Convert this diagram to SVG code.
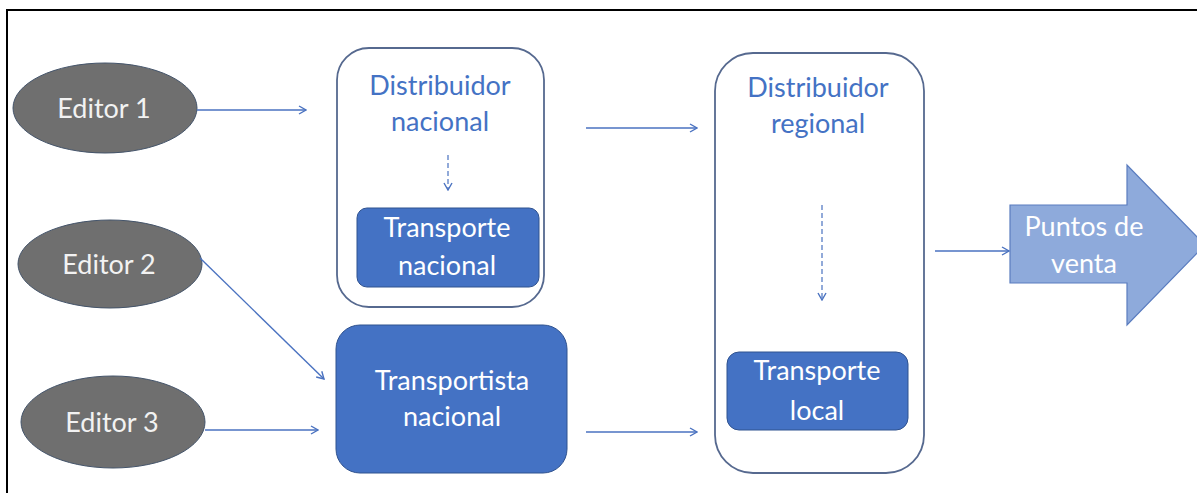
<svg xmlns="http://www.w3.org/2000/svg" width="1197" height="493" viewBox="0 0 1197 493">
<style>
.frame{fill:none;stroke:#000;stroke-width:2}
.editor{fill:#6f6f6f;stroke:#44546a;stroke-width:1}
.edtxt{fill:#f2f2f2;font-family:Lato,"Liberation Sans",sans-serif;font-size:27px;text-anchor:middle}
.outer{fill:#fff;stroke:#56698f;stroke-width:1.8}
.bluetxt{fill:#4472c4;font-family:Lato,"Liberation Sans",sans-serif;font-size:27px;text-anchor:middle}
.inner{fill:#4472c4;stroke:#2f528f;stroke-width:1}
.whitetxt{fill:#fff;font-family:Lato,"Liberation Sans",sans-serif;font-size:27px;text-anchor:middle}
.conn{fill:none;stroke:#4a72c0;stroke-width:1.4;marker-end:url(#ah)}
.dash{fill:none;stroke:#4a72c0;stroke-width:1.2;stroke-dasharray:5 3;marker-end:url(#ah)}
.big{fill:#8eaadb;stroke:#5a7cbf;stroke-width:1.2}
</style>
<defs>
<marker id="ah" viewBox="0 0 10 10" refX="9" refY="5" markerWidth="10" markerHeight="10" markerUnits="userSpaceOnUse" orient="auto">
<polyline points="2,1 9,5 2,9" fill="none" stroke="#4a72c0" stroke-width="1.4"/>
</marker>
</defs>
<rect x="0" y="0" width="1197" height="493" fill="#fff"/>
<path class="frame" d="M7,500 L7,10 L1200,10"/>

<g id="editor1">
<ellipse class="editor" cx="105" cy="108" rx="92" ry="45"/>
<text class="edtxt" x="104" y="118">Editor 1</text>
</g>
<g id="editor2">
<ellipse class="editor" cx="110" cy="264" rx="92" ry="44"/>
<text class="edtxt" x="109" y="274">Editor 2</text>
</g>
<g id="editor3">
<ellipse class="editor" cx="113" cy="422" rx="92" ry="46"/>
<text class="edtxt" x="112" y="432">Editor 3</text>
</g>

<g id="distribuidor-nacional">
<rect class="outer" x="337" y="48" width="207" height="259" rx="32"/>
<text class="bluetxt" x="440" y="95">Distribuidor</text>
<text class="bluetxt" x="440" y="131">nacional</text>
</g>
<g id="transporte-nacional">
<rect class="inner" x="357" y="208" width="182" height="79" rx="10"/>
<text class="whitetxt" x="447" y="237">Transporte</text>
<text class="whitetxt" x="447" y="275">nacional</text>
</g>
<g id="transportista-nacional">
<rect class="inner" x="336" y="325" width="231" height="148" rx="24"/>
<text class="whitetxt" x="452" y="390">Transportista</text>
<text class="whitetxt" x="452" y="426">nacional</text>
</g>
<g id="distribuidor-regional">
<rect class="outer" x="715" y="53" width="209" height="420" rx="38"/>
<text class="bluetxt" x="818" y="97">Distribuidor</text>
<text class="bluetxt" x="818" y="133">regional</text>
</g>
<g id="transporte-local">
<rect class="inner" x="727" y="352" width="181" height="78" rx="12"/>
<text class="whitetxt" x="817" y="380">Transporte</text>
<text class="whitetxt" x="817" y="420">local</text>
</g>
<g id="puntos-de-venta">
<polygon class="big" points="1010,205 1127,205 1127,165 1205,245 1127,325 1127,283 1010,283"/>
<text class="whitetxt" x="1084" y="236">Puntos de</text>
<text class="whitetxt" x="1084" y="273">venta</text>
</g>

<g id="connectors">
<line class="conn" x1="197" y1="110" x2="306" y2="110"/>
<line class="conn" x1="200" y1="258" x2="324" y2="379"/>
<line class="conn" x1="205" y1="430" x2="318" y2="430"/>
<line class="conn" x1="586" y1="128" x2="697" y2="128"/>
<line class="conn" x1="586" y1="432" x2="697" y2="432"/>
<line class="conn" x1="935" y1="251" x2="1009" y2="251"/>
<line class="dash" x1="448" y1="155" x2="448" y2="190"/>
<line class="dash" x1="822" y1="205" x2="822" y2="300"/>
</g>
</svg>
